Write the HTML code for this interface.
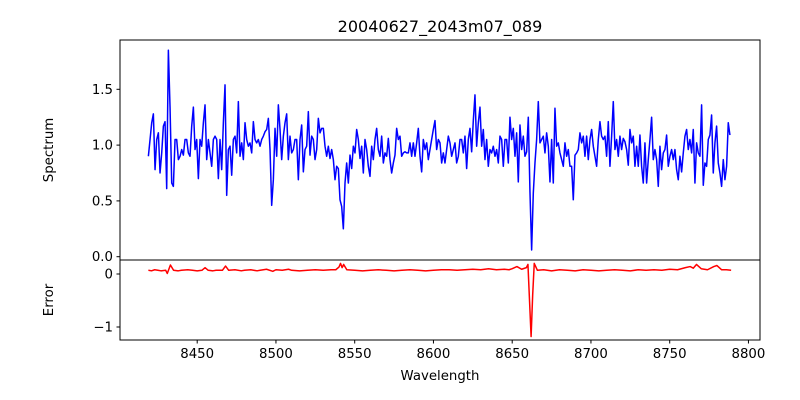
<!DOCTYPE html>
<html><head><meta charset="utf-8"><style>
body{margin:0;background:#fff}
svg{display:block;font-family:"DejaVu Sans","Liberation Sans",sans-serif}
</style></head><body>
<svg id="chart" width="800" height="400" viewBox="0 0 800 400">
<rect width="800" height="400" fill="#fff"/>
<text x="440" y="32" text-anchor="middle" font-size="16">20040627_2043m07_089</text>
<g id="topPanel"></g>
<g id="botPanel"></g>
<text x="440" y="380" text-anchor="middle" font-size="13.3">Wavelength</text>
<text transform="translate(53,150) rotate(-90)" text-anchor="middle" font-size="13.3">Spectrum</text>
<text transform="translate(53,300) rotate(-90)" text-anchor="middle" font-size="13.3">Error</text>
</svg>
<script>
const xTicks=[8450,8500,8550,8600,8650,8700,8750,8800];
const specTicks=[0.0,0.5,1.0,1.5];
const errTicks=[0,-1];
const specStart=8419.0, specStep=1.058;
const flux=[0.90,1.05,1.20,1.28,0.78,1.05,1.11,0.75,0.93,1.17,1.21,0.61,1.85,1.34,0.66,0.63,1.05,1.05,0.87,0.90,0.96,0.91,1.05,1.05,0.93,0.90,1.17,1.34,0.96,1.05,0.70,1.05,0.99,1.20,1.36,0.87,1.05,0.93,0.81,1.05,1.08,1.05,0.70,1.05,0.78,1.20,1.54,0.55,0.96,0.99,0.73,1.05,1.08,0.93,1.39,0.90,1.02,0.87,1.20,1.05,0.99,1.02,0.93,1.21,1.05,1.02,1.05,0.99,1.05,1.08,1.12,1.14,1.24,0.96,0.46,0.69,1.15,0.90,1.36,1.14,0.87,1.08,1.20,1.28,0.87,1.08,0.93,0.96,1.05,1.05,
0.69,1.05,1.18,0.76,0.96,0.99,1.30,0.91,1.08,1.05,0.87,0.96,1.24,1.11,1.15,1.15,0.99,0.90,0.99,0.88,0.96,0.87,0.69,0.81,0.79,0.51,0.45,0.25,0.66,0.84,0.66,0.91,0.79,0.99,0.93,1.14,1.05,0.88,0.99,0.75,1.05,0.96,0.81,0.72,0.99,0.87,1.05,1.15,0.96,0.90,1.08,0.84,0.93,0.90,1.06,0.87,0.75,0.84,0.91,1.15,1.05,1.08,0.90,0.93,0.94,0.93,0.93,1.02,0.90,1.02,0.90,1.02,1.15,0.90,0.76,1.05,0.96,1.02,0.87,0.96,1.05,1.14,1.22,0.96,1.05,1.02,0.84,0.93,0.84,0.96,1.08,1.02,0.90,
0.96,1.02,0.84,0.90,1.05,1.05,0.93,1.08,0.79,1.05,1.15,0.94,1.22,1.45,0.99,1.20,1.34,0.99,1.14,0.87,1.05,0.81,0.96,0.93,0.99,0.90,0.96,0.84,1.08,1.05,0.81,1.05,1.05,0.84,1.25,1.05,1.15,0.90,1.11,0.67,1.18,0.96,1.08,0.90,0.94,1.25,0.58,0.06,0.57,0.84,1.05,1.39,1.02,1.05,1.08,0.93,1.11,0.99,0.67,1.05,0.66,1.33,0.99,1.02,0.93,0.87,0.81,1.02,0.90,0.96,0.81,0.81,0.51,0.91,0.93,0.96,1.11,1.02,1.08,0.90,1.08,0.87,1.05,1.14,0.99,0.90,0.81,1.05,1.21,1.08,1.05,
1.08,0.90,1.21,0.81,1.08,1.39,0.96,1.05,0.90,1.08,0.96,1.06,1.03,0.96,0.82,1.14,1.02,1.08,0.81,0.99,0.81,1.09,0.81,0.66,1.02,0.66,0.87,1.05,1.25,0.87,0.96,0.87,0.63,0.99,0.78,0.93,0.96,1.09,0.81,0.90,0.96,0.87,0.96,0.78,0.69,0.90,0.76,0.93,1.08,1.14,0.96,1.05,0.93,1.14,0.66,1.02,0.93,0.90,1.36,0.64,0.84,0.81,1.05,1.09,1.27,0.75,1.02,1.17,0.84,0.75,0.63,0.87,0.69,0.81,1.20,1.09];
const errWave=[8419,8421,8423,8425,8427,8430,8431,8433,8435,8438,8440,8444,8447,8450,8453,8455,8457,8460,8462,8466,8468,8470,8474,8478,8480,8484,8488,8490,8494,8498,8500,8504,8508,8510,8515,8520,8525,8530,8535,8538,8540,8541,8542,8543,8545,8550,8555,8560,8565,8570,8575,8580,8585,8590,8595,8600,8605,8610,8615,8620,8625,8630,8635,8640,8645,8648,8650,8653,8656,8659,8660,8661,8662,8663,8664,8666,8670,8675,8680,8685,8690,8695,8700,8705,8710,8715,8720,8725,8730,8735,8740,8745,8750,8755,8760,8763,8765,8767,8770,8774,8778,8780,8783,8786,8789];
const errVal=[0.07,0.06,0.08,0.07,0.06,0.07,0.01,0.17,0.07,0.06,0.07,0.08,0.07,0.06,0.07,0.12,0.07,0.06,0.07,0.07,0.15,0.07,0.08,0.06,0.07,0.08,0.06,0.07,0.09,0.05,0.08,0.07,0.09,0.07,0.06,0.07,0.08,0.07,0.08,0.08,0.13,0.20,0.12,0.18,0.08,0.07,0.06,0.07,0.08,0.07,0.06,0.07,0.08,0.07,0.06,0.07,0.08,0.08,0.07,0.08,0.09,0.08,0.10,0.08,0.09,0.08,0.10,0.14,0.09,0.12,0.18,-0.5,-1.18,-0.4,0.20,0.07,0.08,0.06,0.08,0.07,0.06,0.08,0.07,0.06,0.07,0.08,0.07,0.06,0.08,0.07,0.08,0.07,0.09,0.08,0.12,0.14,0.11,0.18,0.10,0.08,0.14,0.16,0.08,0.08,0.07];
const NS='http://www.w3.org/2000/svg';
const L=120,R=760;
const xs=v=>197.2+(v-8450)*1.575;
const ysTop=v=>256.7-v*111.6;
const ysBot=v=>274-v*53;
function mk(tag,attrs,parent){const e=document.createElementNS(NS,tag);for(const k in attrs)e.setAttribute(k,attrs[k]);parent.appendChild(e);return e;}
const topG=document.getElementById('topPanel'),botG=document.getElementById('botPanel');
let d='';
for(let i=0;i<flux.length;i++){d+=(i?'L':'M')+xs(specStart+i*specStep).toFixed(2)+','+ysTop(flux[i]).toFixed(2);}
const sp=mk('path',{d:d,fill:'none',stroke:'#0000ff','stroke-width':1.5,'stroke-linejoin':'round'},topG);


let d2='';
for(let i=0;i<errWave.length;i++){d2+=(i?'L':'M')+xs(errWave[i]).toFixed(2)+','+ysBot(errVal[i]).toFixed(2);}
const ep=mk('path',{d:d2,fill:'none',stroke:'#ff0000','stroke-width':1.5,'stroke-linejoin':'round'},botG);


const f1=mk('rect',{x:L,y:40,width:R-L,height:220,fill:'none',stroke:'#000','stroke-width':1},topG);


const f2=mk('rect',{x:L,y:260,width:R-L,height:80,fill:'none',stroke:'#000','stroke-width':1},botG);


specTicks.forEach(v=>{const y=ysTop(v);
 mk('line',{x1:L-3.5,x2:L,y1:y,y2:y,stroke:'#000'},topG);
 const t=mk('text',{x:L-7,y:y+4.5,'text-anchor':'end','font-size':13.3},topG);t.textContent=v.toFixed(1);
 
 });
errTicks.forEach(v=>{const y=ysBot(v);
 mk('line',{x1:L-3.5,x2:L,y1:y,y2:y,stroke:'#000'},botG);
 const t=mk('text',{x:L-7,y:y+4.5,'text-anchor':'end','font-size':13.3},botG);t.textContent=v<0?'\u2212'+Math.abs(v):String(v);
 
 });
xTicks.forEach(v=>{const x=xs(v);
 mk('line',{x1:x,x2:x,y1:340,y2:343.5,stroke:'#000'},botG);
 const t=mk('text',{x:x,y:358,'text-anchor':'middle','font-size':13.3},botG);t.textContent=v;
 
 });
</script>
</body></html>
